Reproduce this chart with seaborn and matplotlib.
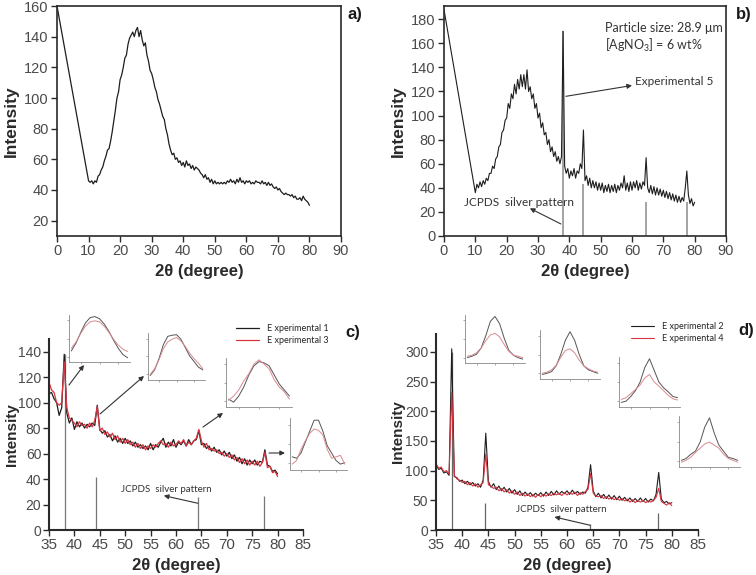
import numpy as np
import pandas as pd
import matplotlib
matplotlib.use("Agg")
import matplotlib.pyplot as plt
import seaborn as sns

# ---------------- data ----------------
# panel a: first point at 0 deg, then 10..80 deg every 0.5 deg
a_start = (0, 160)
a_int = [46, 45, 46, 44, 46, 45, 49, 50, 53, 55,
         59, 62, 66, 67, 72, 78, 85, 92, 100, 104,
         112, 115, 120, 126, 128, 135, 139, 141, 143, 140,
         144, 146, 140, 144, 138, 134, 136, 128, 124, 118,
         116, 112, 107, 104, 99, 96, 92, 88, 86, 80,
         76, 70, 66, 63, 64, 60, 61, 58, 59, 56,
         58, 55, 59, 56, 57, 54, 56, 53, 55, 54,
         53, 51, 50, 48, 50, 47, 48, 45, 47, 44,
         46, 44, 45, 44, 45, 44, 45, 44, 46, 45,
         47, 45, 46, 44, 47, 45, 48, 45, 46, 44,
         46, 45, 46, 44, 45, 44, 46, 45, 45, 44,
         46, 44, 45, 43, 45, 43, 44, 42, 41, 42,
         40, 41, 39, 38, 37, 38, 37, 37, 36, 37,
         35, 36, 34, 34, 35, 33, 36, 34, 33, 32,
         30]

# panel b: Experimental 5
b_start = (0, 188)
b_int = [36, 43, 40, 45, 41, 46, 43, 48, 46, 52,
         52, 58, 56, 64, 66, 74, 76, 86, 88, 96,
         98, 110, 106, 118, 114, 126, 118, 130, 122, 134,
         124, 134, 122, 138, 120, 124, 114, 118, 106, 110,
         98, 102, 90, 94, 84, 86, 76, 80, 70, 74,
         66, 70, 62, 66, 60, 66, 170, 58, 52, 56,
         48, 54, 50, 56, 48, 54, 52, 60, 56, 88,
         46, 50, 42, 48, 40, 46, 40, 45, 38, 44,
         38, 44, 36, 42, 37, 43, 36, 42, 37, 43,
         36, 42, 38, 44, 40, 50, 38, 44, 37, 45,
         38, 45, 40, 46, 38, 44, 39, 45, 42, 65,
         40, 36, 42, 35, 41, 34, 40, 34, 39, 33,
         38, 32, 37, 31, 36, 30, 35, 29, 34, 28,
         33, 28, 32, 29, 40, 54, 34, 27, 31, 25,
         28]

# panels c, d: 35..80 deg every 0.5 deg
c_exp1 = [107, 108, 103, 100, 90, 96, 138, 92, 84, 88,
          79, 85, 81, 84, 80, 83, 81, 84, 82, 98,
          79, 76, 78, 73, 75, 70, 74, 69, 72, 68,
          72, 68, 70, 66, 69, 65, 67, 64, 66, 63,
          68, 63, 67, 65, 69, 72, 65, 69, 66, 71,
          65, 69, 67, 70, 66, 71, 67, 70, 71, 78,
          67, 68, 64, 66, 62, 65, 61, 63, 59, 62,
          58, 61, 56, 59, 54, 57, 52, 56, 51, 55,
          52, 55, 51, 54, 53, 63, 51, 50, 46, 47,
          44]
c_exp3 = [116, 110, 108, 100, 98, 100, 132, 96, 88, 86,
          84, 81, 85, 82, 83, 80, 84, 81, 86, 97,
          78, 80, 75, 77, 73, 76, 71, 74, 69, 72,
          68, 71, 67, 69, 65, 68, 64, 67, 63, 66,
          64, 67, 65, 68, 70, 67, 68, 65, 69, 66,
          67, 70, 68, 71, 66, 69, 67, 70, 72, 79,
          70, 65, 68, 63, 64, 62, 63, 60, 61, 58,
          60, 57, 59, 55, 57, 53, 56, 52, 55, 51,
          54, 51, 54, 50, 53, 61, 49, 50, 45, 46,
          42]
d_exp2 = [110, 102, 104, 96, 98, 92, 305, 90, 88, 82,
          84, 78, 82, 76, 80, 74, 78, 72, 84, 163,
          82, 72, 78, 68, 74, 66, 72, 64, 70, 62,
          68, 60, 66, 58, 64, 58, 63, 57, 62, 58,
          63, 57, 64, 58, 65, 59, 66, 60, 65, 61,
          66, 60, 67, 61, 65, 60, 64, 62, 72, 110,
          66, 56, 62, 54, 60, 53, 59, 52, 58, 51,
          57, 50, 55, 49, 54, 48, 53, 48, 54, 48,
          53, 47, 52, 49, 60, 97, 52, 46, 48, 44,
          46]
d_exp4 = [112, 104, 106, 98, 100, 94, 232, 92, 86, 84,
          80, 82, 76, 80, 74, 78, 72, 76, 80, 128,
          76, 74, 70, 72, 66, 70, 64, 68, 62, 66,
          60, 64, 58, 62, 57, 61, 56, 60, 55, 60,
          56, 60, 57, 61, 58, 62, 59, 62, 58, 63,
          59, 63, 60, 64, 58, 63, 60, 65, 68, 95,
          62, 57, 56, 58, 53, 56, 52, 55, 51, 54,
          50, 53, 49, 52, 47, 51, 46, 50, 47, 50,
          46, 49, 47, 50, 55, 70, 48, 45, 42, 46,
          41]

# JCPDS silver reference lines
jcpds_pos = [38.1, 44.3, 64.4, 77.4]
jcpds_b = [170, 43, 28, 28]
jcpds_c = [138, 42, 26, 27]
jcpds_d = [300, 45, 10, 28]

# inset peak profiles (relative units)
c_ins_black = [[35, 50, 70, 88, 98, 100, 96, 86, 72, 55, 40, 28, 22],
               [20, 30, 50, 75, 90, 92, 93, 85, 70, 55, 45, 35, 30],
               [30, 25, 35, 50, 70, 85, 92, 90, 85, 70, 55, 45, 35],
               [40, 38, 45, 60, 75, 90, 90, 75, 55, 45, 35, 30, 32]]
c_ins_red = [[40, 52, 68, 82, 90, 92, 90, 82, 70, 57, 46, 38, 34],
             [22, 32, 48, 68, 80, 85, 88, 82, 72, 60, 50, 42, 32],
             [28, 35, 45, 60, 72, 88, 95, 88, 80, 62, 50, 42, 30],
             [30, 35, 50, 62, 72, 78, 76, 70, 50, 38, 40, 42, 30]]
d_ins_black = [[15, 18, 22, 35, 60, 90, 100, 85, 55, 30, 20, 15, 12],
               [20, 22, 25, 35, 55, 80, 95, 80, 55, 35, 28, 25, 22],
               [20, 22, 30, 40, 55, 80, 95, 75, 55, 45, 38, 30, 28],
               [25, 28, 35, 40, 55, 80, 95, 70, 50, 40, 30, 28, 25]]
d_ins_red = [[18, 20, 25, 35, 50, 62, 65, 58, 42, 28, 20, 18, 15],
             [22, 24, 28, 36, 50, 62, 65, 58, 45, 35, 30, 26, 24],
             [25, 28, 35, 42, 50, 62, 68, 55, 48, 40, 32, 26, 24],
             [22, 25, 30, 38, 45, 52, 55, 50, 45, 35, 28, 25, 22]]

x_ticks_ab = list(range(0, 100, 10))
y_ticks_a = list(range(20, 180, 20))
y_ticks_b = list(range(0, 200, 20))
x_ticks_cd = list(range(35, 90, 5))
y_ticks_c = list(range(0, 160, 20))
y_ticks_d = list(range(0, 350, 50))

# ---------------- build ----------------
a_x = np.concatenate([[a_start[0]], 10 + 0.5 * np.arange(len(a_int))])
a_y = np.concatenate([[a_start[1]], a_int])
b_x = np.concatenate([[b_start[0]], 10 + 0.5 * np.arange(len(b_int))])
b_y = np.concatenate([[b_start[1]], b_int])
cd_x = 35 + 0.5 * np.arange(len(c_exp1))

sns.set_theme(style="ticks")
plt.rcParams['font.family'] = ['Liberation Sans', 'DejaVu Sans']
plt.rcParams['mathtext.default'] = 'regular'

W, H = 756, 575
fig = plt.figure(figsize=(W / 100, H / 100), dpi=100)


def rect(l, t, r, b):
    return [l / W, 1 - b / H, (r - l) / W, (b - t) / H]


def fp(px, py):
    return (px / W, 1 - py / H)


NOTE_FONT = ['Lato', 'DejaVu Sans']
BLACK = '#1e1e1e'
RED = '#d9333f'


def style_main(ax, full_frame, ylabel_right_px=None):
    for name, s in ax.spines.items():
        s.set_color('#2a2a2a')
        s.set_linewidth(1.2 if full_frame else 1.5)
        if not full_frame and name in ('top', 'right'):
            s.set_visible(False)
    ax.tick_params(direction='out', length=4, width=1, colors='#2a2a2a',
                   labelcolor='#4a4a4a', labelsize=10.5 if full_frame else 11, pad=2)
    ax.tick_params(axis='y', labelsize=10.5 if full_frame else 10, pad=2 if full_frame else 1.5)
    ax.set_xlabel('2θ (degree)', fontsize=12, fontweight='bold', color='#2a2a2a', labelpad=4)
    ax.set_ylabel('Intensity', fontsize=12.5 if full_frame else 11, fontweight='bold',
                  color='#2a2a2a', labelpad=4)
    if ylabel_right_px is not None:
        bb = ax.get_position()
        left_px = bb.x0 * W
        ax.yaxis.set_label_coords((ylabel_right_px - left_px) / (bb.width * W), 0.5)


def arrow(ax, start, end, coords='data'):
    ax.annotate('', xy=end, xytext=start, xycoords=coords, textcoords=coords,
                arrowprops=dict(arrowstyle='-|>', color='#333333', lw=0.8,
                                mutation_scale=7, shrinkA=0, shrinkB=0))


# ----- panel a -----
ax_a = fig.add_axes(rect(57, 6, 341, 236))
sns.lineplot(x=a_x, y=a_y, ax=ax_a, color=BLACK, lw=0.9)
ax_a.set_xlim(0, 90)
ax_a.set_ylim(10, 160)
ax_a.set_xticks(x_ticks_ab)
ax_a.set_yticks(y_ticks_a)
style_main(ax_a, True)
fig.text(*fp(348, 15), 'a)', fontsize=12, fontweight='bold', va='center', color='#1a1a1a')

# ----- panel b -----
ax_b = fig.add_axes(rect(444, 6, 726, 236))
ax_b.vlines(jcpds_pos, 0, jcpds_b, color='#8a8a8a', lw=1.1)
sns.lineplot(x=b_x, y=b_y, ax=ax_b, color=BLACK, lw=0.8)
ax_b.set_xlim(0, 90)
ax_b.set_ylim(0, 191)
ax_b.set_xticks(x_ticks_ab)
ax_b.set_yticks(y_ticks_b)
style_main(ax_b, True)
fig.text(*fp(736, 15), 'b)', fontsize=12, fontweight='bold', va='center', color='#1a1a1a')
ax_b.text(51.3, 173, 'Particle size: 28.9 μm', fontsize=9, family=NOTE_FONT, color='#333333', va='center')
ax_b.text(51.3, 158, '[AgNO$_3$] = 6 wt%', fontsize=9, family=NOTE_FONT, color='#333333', va='center')
ax_b.text(61, 128, 'Experimental 5', fontsize=8.5, family=NOTE_FONT, color='#333333', va='center')
arrow(ax_b, (38.9, 116), (60.0, 125))
ax_b.text(6.4, 28, 'JCPDS  silver pattern', fontsize=8.5, family=NOTE_FONT, color='#333333', va='center')
arrow(ax_b, (37.3, 10), (27.4, 23))

# ----- panel c -----
ax_c = fig.add_axes(rect(49, 339, 303, 530))
ax_c.vlines(jcpds_pos, 0, jcpds_c, color='#777777', lw=0.9)
sns.lineplot(x=cd_x, y=c_exp1, ax=ax_c, color=BLACK, lw=0.9, label='E xperimental 1')
sns.lineplot(x=cd_x, y=c_exp3, ax=ax_c, color=RED, lw=0.9, label='E xperimental 3')
ax_c.set_xlim(35, 85)
ax_c.set_ylim(0, 150)
ax_c.set_xticks(x_ticks_cd)
ax_c.set_yticks(y_ticks_c)
style_main(ax_c, False, ylabel_right_px=19)
ax_c.legend(loc='upper left', bbox_to_anchor=fp(236, 324), bbox_transform=fig.transFigure,
            frameon=False, handlelength=2.6, labelspacing=0.35,
            borderaxespad=0, borderpad=0, prop={'family': NOTE_FONT, 'size': 6.5})
fig.text(*fp(345, 332), 'c)', fontsize=12, fontweight='bold', va='center', color='#1a1a1a')
ax_c.text(49.1, 32, 'JCPDS  silver pattern', fontsize=7, family=NOTE_FONT, color='#333333', va='center')
arrow(ax_c, (64.3, 21), (57.6, 27))

# ----- panel d -----
ax_d = fig.add_axes(rect(436, 334, 698, 530))
ax_d.vlines(jcpds_pos, 0, jcpds_d, color='#666666', lw=0.9)
sns.lineplot(x=cd_x, y=d_exp2, ax=ax_d, color=BLACK, lw=0.8, label='E xperimental 2')
sns.lineplot(x=cd_x, y=d_exp4, ax=ax_d, color=RED, lw=0.8, label='E xperimental 4')
ax_d.set_xlim(35, 85)
ax_d.set_ylim(0, 330)
ax_d.set_xticks(x_ticks_cd)
ax_d.set_yticks(y_ticks_d)
style_main(ax_d, False, ylabel_right_px=405)
ax_d.legend(loc='upper left', bbox_to_anchor=fp(631, 322), bbox_transform=fig.transFigure,
            frameon=False, handlelength=2.6, labelspacing=0.35,
            borderaxespad=0, borderpad=0, prop={'family': NOTE_FONT, 'size': 6.5})
fig.text(*fp(738, 330), 'd)', fontsize=12, fontweight='bold', va='center', color='#1a1a1a')
ax_d.text(50.3, 34, 'JCPDS  silver pattern', fontsize=7, family=NOTE_FONT, color='#333333', va='center')
arrow(ax_d, (64.4, 8), (57.6, 22))


# ----- insets -----
def inset(box, black, red):
    ax = fig.add_axes(rect(*box))
    xi = np.arange(len(black))
    sns.lineplot(x=xi, y=black, ax=ax, color='#555555', lw=0.7)
    sns.lineplot(x=xi, y=red, ax=ax, color='#d98a90', lw=0.7)
    ax.set_xlim(-0.5, len(black) - 0.5)
    ax.set_ylim(min(min(black), min(red)) - 8, max(max(black), max(red)) + 3)
    for name, s in ax.spines.items():
        if name in ('top', 'right'):
            s.set_visible(False)
        else:
            s.set_color('#888888')
            s.set_linewidth(0.6)
    ax.set_xticks([2, 6, 10])
    ax.set_yticks(np.linspace(ax.get_ylim()[0] + 10, ax.get_ylim()[1] - 10, 3))
    ax.tick_params(length=1.5, width=0.5, colors='#888888', labelbottom=False, labelleft=False)
    ax.set_xlabel('')
    ax.set_ylabel('')
    ax.patch.set_alpha(0)
    return ax


c_boxes = [(69, 315, 130, 362), (148, 333, 205, 380), (226, 358, 292, 407), (290, 418, 347, 470)]
d_boxes = [(465, 315, 525, 363), (540, 330, 600, 379), (619, 357, 680, 407), (679, 416, 740, 467)]
for box, bl, rd in zip(c_boxes, c_ins_black, c_ins_red):
    inset(box, bl, rd)
for box, bl, rd in zip(d_boxes, d_ins_black, d_ins_red):
    inset(box, bl, rd)

fig_arrows = [((69, 385), (84, 365)), ((100, 414), (144, 376)), ((203, 427), (223, 413)),
              ((269, 453), (285, 453)),
              ((458, 412), (471, 368)), ((490, 455), (535, 385)), ((591, 463), (631, 415)),
              ((660, 485), (686, 473))]
for s, e in fig_arrows:
    arrow(ax_c, fp(*s), fp(*e), coords='figure fraction')

fig.savefig('out.png', dpi=100)
